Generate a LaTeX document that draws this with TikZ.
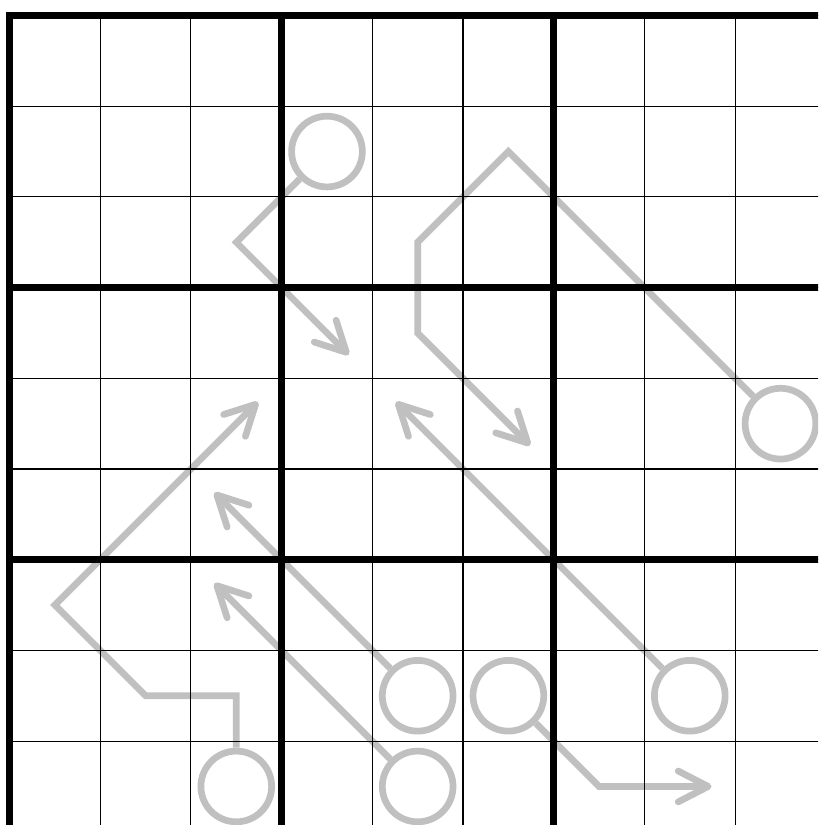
\documentclass[tikz,border=0pt]{standalone}
\usepackage{tikz}
\usetikzlibrary{arrows.meta}
\definecolor{PathGrey}{HTML}{C0C0C0}
\definecolor{GridInk}{HTML}{000000}

\begin{document}
\begin{tikzpicture}[
  x=1cm,y=-1cm,
  >={Straight Barb[length=3.3mm,width=3.4mm,round]},
  cellrule/.style={draw=GridInk,line width=.35pt},
  boxrule/.style={draw=GridInk,line width=2.2pt,line cap=rect},
  route/.style={draw=PathGrey,line width=2.1pt},
  pointer/.style={route,->},
  bulb/.style={circle,draw=PathGrey,line width=2.1pt,minimum size=7.8mm,inner sep=0pt}
]
% Page frame cuts the last row and column, as in the source.
\useasboundingbox (-.105,-.171) rectangle (8.914,8.925);
\clip (-.105,-.171) rectangle (8.914,8.925);
% Grey arrows, each starting from its bulb.
\node[bulb] (bulbA) at (3.5,1.5) {};
\coordinate (bendA) at (2.5,2.5);
\coordinate (tipA) at (3.74,3.74);
\draw[pointer] (bulbA) -- (bendA) -- (tipA);
\node[bulb] (bulbB) at (8.5,4.5) {};
\coordinate (bendB1) at (5.5,1.5);
\coordinate (bendB2) at (4.5,2.5);
\coordinate (bendB3) at (4.5,3.5);
\coordinate (tipB) at (5.74,4.74);
\draw[pointer] (bulbB) -- (bendB1) -- (bendB2) -- (bendB3) -- (tipB);
\node[bulb] (bulbC) at (7.5,7.5) {};
\coordinate (tipC) at (4.26,4.26);
\draw[pointer] (bulbC) -- (tipC);
\node[bulb] (bulbD) at (4.5,7.5) {};
\coordinate (tipD) at (2.26,5.26);
\draw[pointer] (bulbD) -- (tipD);
\node[bulb] (bulbE) at (4.5,8.5) {};
\coordinate (tipE) at (2.26,6.26);
\draw[pointer] (bulbE) -- (tipE);
\node[bulb] (bulbF) at (2.5,8.5) {};
\coordinate (bendF1) at (2.5,7.5);
\coordinate (bendF2) at (1.5,7.5);
\coordinate (bendF3) at (.5,6.5);
\coordinate (tipF) at (2.74,4.26);
\draw[pointer] (bulbF) -- (bendF1) -- (bendF2) -- (bendF3) -- (tipF);
\node[bulb] (bulbG) at (5.5,7.5) {};
\coordinate (bendG) at (6.5,8.5);
\coordinate (tipG) at (7.74,8.5);
\draw[pointer] (bulbG) -- (bendG) -- (tipG);
% Grid sits on top of the grey paths.
\foreach \i in {0,...,9} {
  \draw[cellrule] (\i,0) -- (\i,9);
  \draw[cellrule] (0,\i) -- (9,\i);
}
\foreach \i in {0,3,6,9} {
  \draw[boxrule] (\i,0) -- (\i,9);
  \draw[boxrule] (0,\i) -- (9,\i);
}
\end{tikzpicture}
\end{document}
